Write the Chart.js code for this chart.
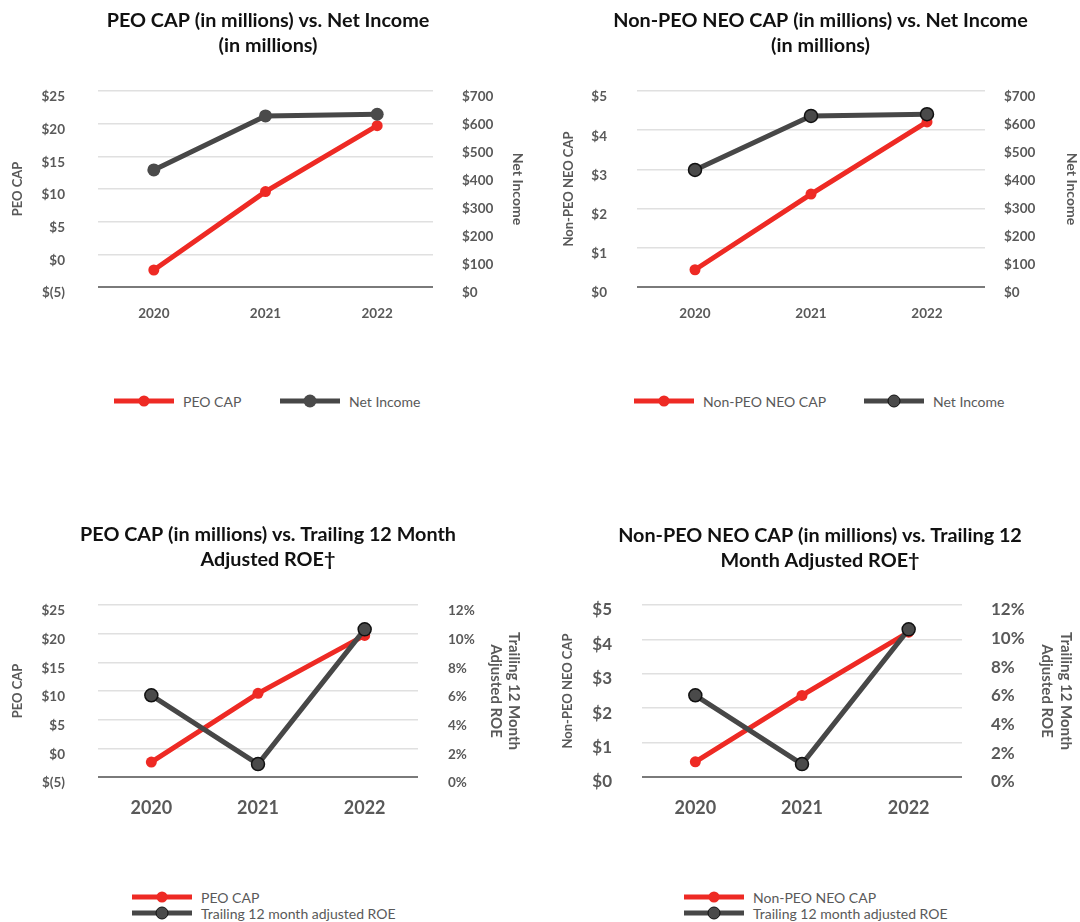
<!DOCTYPE html>
<html>
<head>
<meta charset="utf-8">
<title>CAP vs. Performance</title>
<script src="https://cdn.jsdelivr.net/npm/chart.js@4.4.1/dist/chart.umd.min.js"></script>
<style>
  html, body { margin: 0; padding: 0; background: #fff; }
  body { width: 1080px; height: 922px; position: relative; overflow: hidden; font-family: Lato, "Open Sans", sans-serif; }
  .panel { position: absolute; }
  canvas { display: block; }
  .legend-item { position: absolute; height: 16px; display: flex; align-items: center; white-space: nowrap;
                 font: 14px Lato, sans-serif; color: #595959; }
  .swatch { position: relative; width: 60px; height: 16px; margin-right: 9px; flex: none; }
  .swatch .bar { position: absolute; left: 0; right: 0; top: 50%; transform: translateY(-50%); }
  .swatch .dot { position: absolute; left: 50%; top: 50%; transform: translate(-50%, -50%); border-radius: 50%; box-sizing: border-box; }
</style>
</head>
<body>
<div class="panel" style="left:0;top:0"><canvas id="chartPeoNet" width="540" height="335"></canvas></div>
<div class="panel" style="left:540px;top:0"><canvas id="chartNeoNet" width="540" height="335"></canvas></div>
<div class="panel" style="left:0;top:500px"><canvas id="chartPeoRoe" width="540" height="340"></canvas></div>
<div class="panel" style="left:540px;top:500px"><canvas id="chartNeoRoe" width="540" height="340"></canvas></div>
<div id="legends"></div>

<script>
// ---- data ($ in millions, ROE in percent) ----
const years = ['2020', '2021', '2022'];
const peoCap = [-2.4, 9.6, 19.7];
const nonPeoNeoCap = [0.44, 2.37, 4.21];
const netIncome = [418, 611, 617];
const adjustedRoe = [5.7, 0.9, 10.3];

// axis ranges: [min, max, step]
const peoCapAxis = [-5, 25, 5];
const nonPeoCapAxis = [0, 5, 1];
const netIncomeAxis = [0, 700, 100];
const roeAxis = [0, 12, 2];

// ---- styling ----
const FONT = 'Lato, "Open Sans", sans-serif';
const RED = '#ee2a24';
const DARK = '#474747';
const DARK_FILL = '#4a4a4a';
const TEXT = '#595959';
const GRID = '#e0e0e0';
const BASE = '#7a7a7a';

const money = v => (v < 0 ? '$(' + Math.abs(v) + ')' : '$' + v);
const pct = v => v + '%';

function makeChart(canvasId, spec, g) {
  const [cMin, cMax, cStep] = spec.capAxis;
  const [oMin, oMax, oStep] = spec.otherAxis;
  const tickFont = { family: FONT, weight: 'bold', size: g.tickSize };
  const axisTitleFont = { family: FONT, weight: 'bold', size: g.axisTitleSize, lineHeight: 1.2 };

  return new Chart(document.getElementById(canvasId), {
    type: 'line',
    data: {
      labels: years,
      datasets: [
        {
          label: spec.capLabel, data: spec.capData, yAxisID: 'yCap', order: 1,
          borderColor: RED, backgroundColor: RED, borderWidth: 5,
          pointRadius: 5.5, pointBackgroundColor: RED, pointBorderColor: RED, pointBorderWidth: 0,
          pointHoverRadius: 5.5
        },
        {
          label: spec.otherLabel, data: spec.otherData, yAxisID: 'yOther', order: 0,
          borderColor: DARK, backgroundColor: DARK_FILL, borderWidth: 5,
          pointRadius: 6.5, pointBackgroundColor: DARK_FILL,
          pointBorderColor: spec.outlined ? '#111' : DARK_FILL,
          pointBorderWidth: spec.outlined ? 1.5 : 0,
          pointHoverRadius: 6.5
        }
      ]
    },
    options: {
      responsive: false,
      animation: false,
      devicePixelRatio: 1,
      events: [],
      layout: { padding: { left: g.padL, right: g.padR, top: 0, bottom: 0 } },
      plugins: {
        legend: { display: false },
        tooltip: { enabled: false },
        title: {
          display: true,
          text: spec.title,
          color: '#111',
          font: { family: FONT, weight: 'bold', size: g.titleSize, lineHeight: g.titleLH / g.titleSize },
          padding: { top: g.titleTop, bottom: g.titleBottom }
        }
      },
      scales: {
        x: {
          offset: true,
          grid: { display: false, drawTicks: false },
          border: { display: false },
          ticks: { padding: g.xPad, color: TEXT, font: { family: FONT, weight: 'bold', size: g.xSize } },
          afterFit: s => { s.height = g.xH; }
        },
        yCap: {
          position: 'left',
          min: cMin, max: cMax,
          grid: {
            drawTicks: false,
            color: c => (c.tick && c.tick.value === cMin ? BASE : GRID),
            lineWidth: c => (c.tick && c.tick.value === cMin ? 2 : 1.6)
          },
          border: { display: false },
          ticks: { stepSize: cStep, callback: money, padding: g.leftTickPad, labelOffset: g.labelOffset, color: TEXT, font: tickFont },
          title: { display: true, text: spec.capTitle, color: TEXT, font: axisTitleFont, padding: { top: g.leftTitlePad, bottom: 0 } },
          afterFit: s => { s.width = g.leftW; }
        },
        yOther: {
          position: 'right',
          min: oMin, max: oMax,
          grid: { display: false, drawTicks: false },
          border: { display: false },
          ticks: { stepSize: oStep, callback: spec.otherFmt, padding: g.rightTickPad, labelOffset: g.labelOffset, color: TEXT, font: { family: FONT, weight: 'bold', size: g.rightTickSize || g.tickSize } },
          title: {
            display: true, text: spec.otherTitle, color: TEXT,
            font: { family: FONT, weight: 'bold', size: g.rightTitleSize, lineHeight: g.rightTitleLH / g.rightTitleSize },
            padding: { top: g.rightTitlePad, bottom: 0 }
          },
          afterFit: s => { s.width = g.rightW; }
        }
      }
    }
  });
}

// HTML legend built from each chart's datasets
function addLegend(chart, spots) {
  const host = document.getElementById('legends');
  chart.data.datasets.forEach((ds, i) => {
    const [x, y] = spots[i];
    const item = document.createElement('div');
    item.className = 'legend-item';
    item.style.left = x + 'px';
    item.style.top = (y - 8) + 'px';
    const sw = document.createElement('div');
    sw.className = 'swatch';
    const bar = document.createElement('div');
    bar.className = 'bar';
    bar.style.height = ds.borderWidth + 'px';
    bar.style.background = ds.borderColor;
    const dot = document.createElement('div');
    dot.className = 'dot';
    const d = ds.pointRadius * 2;
    dot.style.width = d + 'px';
    dot.style.height = d + 'px';
    dot.style.background = ds.pointBackgroundColor;
    if (ds.pointBorderWidth) dot.style.border = ds.pointBorderWidth + 'px solid ' + ds.pointBorderColor;
    sw.appendChild(bar);
    sw.appendChild(dot);
    item.appendChild(sw);
    const label = document.createElement('span');
    label.textContent = ds.label;
    item.appendChild(label);
    host.appendChild(item);
  });
}

// ---- geometry of each panel ----
const topLeftGeom = {
  padL: 0, padR: 4, leftW: 98, rightW: 103, xH: 48,
  titleSize: 19.8, titleLH: 25, titleTop: 8.5, titleBottom: 32.5,
  tickSize: 13.5, xSize: 13.5, xPad: 19, labelOffset: 6,
  leftTickPad: 33, rightTickPad: 29,
  axisTitleSize: 13, leftTitlePad: 9.8,
  rightTitleSize: 14, rightTitleLH: 16, rightTitlePad: 10
};
const topRightGeom = {
  padL: 21, padR: 0, leftW: 76, rightW: 95, xH: 48,
  titleSize: 19.8, titleLH: 25, titleTop: 8.5, titleBottom: 32.5,
  tickSize: 13.5, xSize: 13.5, xPad: 19, labelOffset: 6,
  leftTickPad: 30, rightTickPad: 19,
  axisTitleSize: 13, leftTitlePad: 0.5,
  rightTitleSize: 14, rightTitleLH: 14, rightTitlePad: 1.5
};
const bottomLeftGeom = {
  padL: 0, padR: 4, leftW: 98, rightW: 118, xH: 63,
  titleSize: 19.8, titleLH: 25, titleTop: 22.5, titleBottom: 32.5,
  tickSize: 13.5, xSize: 18, xPad: 20, labelOffset: 6,
  leftTickPad: 33, rightTickPad: 30,
  axisTitleSize: 13, leftTitlePad: 9.8,
  rightTitleSize: 15, rightTitleLH: 18, rightTitlePad: 13
};
const bottomRightGeom = {
  padL: 20, padR: 0, leftW: 82, rightW: 118, xH: 63,
  titleSize: 19.8, titleLH: 25, titleTop: 23.5, titleBottom: 31.5,
  tickSize: 17, rightTickSize: 17, xSize: 18, xPad: 20, labelOffset: 5,
  leftTickPad: 30, rightTickPad: 29,
  axisTitleSize: 13, leftTitlePad: 0,
  rightTitleSize: 15, rightTitleLH: 19, rightTitlePad: 4.5
};

const c1 = makeChart('chartPeoNet', {
  title: ['PEO CAP (in millions) vs. Net Income', '(in millions)'],
  capLabel: 'PEO CAP', capTitle: 'PEO CAP', capData: peoCap, capAxis: peoCapAxis,
  otherLabel: 'Net Income', otherTitle: 'Net Income', otherData: netIncome, otherAxis: netIncomeAxis,
  otherFmt: money, outlined: false
}, topLeftGeom);

const c2 = makeChart('chartNeoNet', {
  title: ['Non-PEO NEO CAP (in millions) vs. Net Income', '(in millions)'],
  capLabel: 'Non-PEO NEO CAP', capTitle: 'Non-PEO NEO CAP', capData: nonPeoNeoCap, capAxis: nonPeoCapAxis,
  otherLabel: 'Net Income', otherTitle: 'Net Income', otherData: netIncome, otherAxis: netIncomeAxis,
  otherFmt: money, outlined: true
}, topRightGeom);

const c3 = makeChart('chartPeoRoe', {
  title: ['PEO CAP (in millions) vs. Trailing 12 Month', 'Adjusted ROE\u2020'],
  capLabel: 'PEO CAP', capTitle: 'PEO CAP', capData: peoCap, capAxis: peoCapAxis,
  otherLabel: 'Trailing 12 month adjusted ROE', otherTitle: ['Trailing 12 Month', 'Adjusted ROE'],
  otherData: adjustedRoe, otherAxis: roeAxis, otherFmt: pct, outlined: true
}, bottomLeftGeom);

const c4 = makeChart('chartNeoRoe', {
  title: ['Non-PEO NEO CAP (in millions) vs. Trailing 12', 'Month Adjusted ROE\u2020'],
  capLabel: 'Non-PEO NEO CAP', capTitle: 'Non-PEO NEO CAP', capData: nonPeoNeoCap, capAxis: nonPeoCapAxis,
  otherLabel: 'Trailing 12 month adjusted ROE', otherTitle: ['Trailing 12 Month', 'Adjusted ROE'],
  otherData: adjustedRoe, otherAxis: roeAxis, otherFmt: pct, outlined: true
}, bottomRightGeom);

addLegend(c1, [[114, 401], [280, 401]]);
addLegend(c2, [[634, 401], [864, 401]]);
addLegend(c3, [[132, 897], [132, 913]]);
addLegend(c4, [[684, 897], [684, 913]]);
</script>
</body>
</html>
